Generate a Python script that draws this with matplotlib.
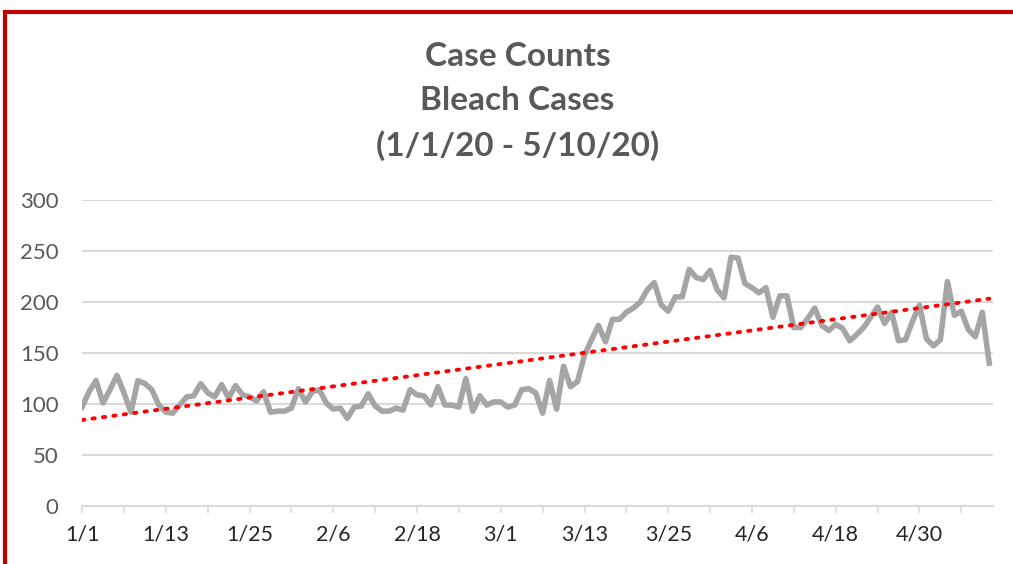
import matplotlib
matplotlib.use("Agg")
import matplotlib.pyplot as plt
import numpy as np
from matplotlib.patches import Rectangle

# daily bleach case counts, 1/1/20 .. 5/10/20 (131 days)
cases = [
    97, 112, 123, 101, 114, 128, 111, 92, 123, 120,
    114, 99, 92, 91, 99, 107, 108, 120, 111, 107,
    119, 106, 118, 109, 107, 103, 112, 92, 93, 93,
    96, 115, 102, 112, 114, 101, 95, 96, 86, 97,
    98, 110, 98, 93, 93, 96, 94, 114, 109, 108,
    99, 117, 99, 99, 97, 125, 93, 108, 99, 102,
    102, 97, 99, 114, 115, 111, 91, 123, 95, 137,
    117, 122, 148, 163, 177, 161, 183, 183, 190, 194,
    200, 212, 219, 197, 191, 205, 205, 232, 224, 222,
    231, 212, 204, 244, 243, 218, 214, 209, 214, 185,
    206, 206, 175, 175, 184, 194, 177, 172, 178, 174,
    162, 168, 175, 185, 195, 179, 190, 162, 163, 181,
    197, 164, 157, 163, 220, 187, 191, 173, 166, 190,
    140,
]
tick_labels = ["1/1", "1/13", "1/25", "2/6", "2/18", "3/1",
               "3/13", "3/25", "4/6", "4/18", "4/30"]
title = "Case Counts\nBleach Cases\n(1/1/20 - 5/10/20)"

TEXT = "#595959"
GRID = "#d9d9d9"

plt.rcParams["font.family"] = ["Lato", "DejaVu Sans"]

days = np.arange(len(cases))
slope, intercept = np.polyfit(days, cases, 1)

fig = plt.figure(figsize=(10.13, 5.64), dpi=100)
ax = fig.add_axes([0.081, 0.1028, 0.899, 0.5426])

ax.plot(days, cases, color="#a5a5a5", lw=4.0, solid_joinstyle="round", zorder=3)
ax.plot(days, slope * days + intercept, color="#ff0000", lw=2.8,
        linestyle=(0, (0.6, 2.1)), dash_capstyle="round", zorder=4)

ax.set_xlim(0, 130.5)
ax.set_ylim(0, 300)
ax.set_yticks(np.arange(0, 301, 50))
ax.yaxis.grid(True, color=GRID, lw=1.5)
ax.set_axisbelow(True)

tick_pos = np.arange(0, 131, 6)
ax.set_xticks(tick_pos)
ax.set_xticklabels([tick_labels[i // 2] if i % 2 == 0 else "" for i in range(len(tick_pos))])

for side in ["top", "right", "left"]:
    ax.spines[side].set_visible(False)
ax.spines["bottom"].set_color(GRID)
ax.spines["bottom"].set_linewidth(1.5)

ax.tick_params(axis="y", length=0, pad=17, labelsize=16, labelcolor=TEXT)
ax.tick_params(axis="x", length=5, width=1.2, color=GRID, pad=8,
               labelsize=15.5, labelcolor="#262626")
for lab in ax.get_yticklabels():
    lab.set_horizontalalignment("right")

fig.text(0.511, 0.925, title, ha="center", va="top", fontsize=24,
         fontweight="bold", color=TEXT, linespacing=1.6)

fig.patches.append(Rectangle((0.0045, -0.1), 1.2, 1.0796, transform=fig.transFigure,
                             fill=False, edgecolor="#c00000", lw=3, clip_on=False))

fig.savefig("out.png", dpi=100)
